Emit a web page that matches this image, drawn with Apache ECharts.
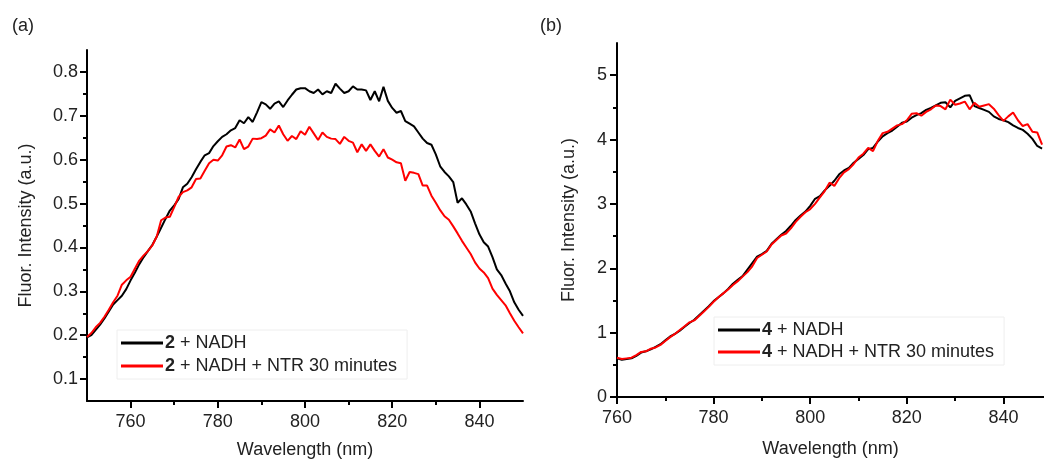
<!DOCTYPE html>
<html>
<head>
<meta charset="utf-8">
<script src="https://cdn.jsdelivr.net/npm/echarts@6/dist/echarts.min.js"></script>
<style>html,body{margin:0;padding:0;background:#fff}#c{width:1044px;height:464px}</style>
</head>
<body>
<div id="c"></div>
<script>
// ---------- data ----------
const wlStartA = 750;   // nm, 1 nm step
const wlStartB = 760;   // nm, 1 nm step
const seriesNamesA = ['2 + NADH', '2 + NADH + NTR 30 minutes'];
const seriesNamesB = ['4 + NADH', '4 + NADH + NTR 30 minutes'];
const blackA = [
  0.195,0.200,0.212,0.224,0.238,0.254,0.270,0.280,0.290,0.305,
  0.325,0.343,0.362,0.378,0.392,0.406,0.425,0.445,0.465,0.484,
  0.496,0.510,0.537,0.545,0.560,0.578,0.595,0.610,0.615,0.631,
  0.642,0.652,0.658,0.667,0.672,0.690,0.683,0.697,0.686,0.708,
  0.731,0.726,0.716,0.728,0.733,0.720,0.735,0.748,0.760,0.763,
  0.763,0.756,0.752,0.760,0.749,0.756,0.752,0.773,0.762,0.752,
  0.756,0.767,0.760,0.760,0.758,0.736,0.756,0.733,0.766,0.734,
  0.718,0.707,0.711,0.688,0.682,0.676,0.662,0.648,0.638,0.634,
  0.612,0.585,0.572,0.562,0.549,0.502,0.512,0.498,0.482,0.455,
  0.430,0.412,0.402,0.378,0.350,0.337,0.318,0.300,0.275,0.258,
  0.244];
const redA = [
  0.196,0.205,0.218,0.228,0.242,0.258,0.275,0.290,0.315,0.325,
  0.333,0.352,0.370,0.382,0.392,0.405,0.425,0.462,0.468,0.470,
  0.492,0.515,0.526,0.530,0.537,0.556,0.557,0.575,0.592,0.600,
  0.598,0.610,0.630,0.633,0.628,0.646,0.624,0.630,0.648,0.647,
  0.649,0.655,0.669,0.662,0.678,0.658,0.643,0.654,0.647,0.665,
  0.657,0.675,0.660,0.645,0.662,0.652,0.648,0.647,0.636,0.652,
  0.643,0.639,0.617,0.635,0.620,0.635,0.620,0.607,0.624,0.605,
  0.600,0.594,0.592,0.552,0.572,0.570,0.567,0.541,0.541,0.518,
  0.502,0.485,0.471,0.463,0.448,0.432,0.415,0.400,0.385,0.366,
  0.352,0.343,0.330,0.306,0.292,0.280,0.268,0.250,0.233,0.218,
  0.204];
const blackB = [
  0.60,0.58,0.59,0.60,0.64,0.69,0.71,0.74,0.78,0.82,
  0.88,0.94,0.98,1.03,1.09,1.15,1.20,1.27,1.34,1.41,
  1.49,1.55,1.61,1.68,1.76,1.82,1.88,1.98,2.08,2.18,
  2.22,2.27,2.38,2.45,2.52,2.58,2.66,2.75,2.82,2.88,
  2.97,3.08,3.12,3.21,3.28,3.36,3.46,3.52,3.56,3.64,
  3.70,3.76,3.85,3.87,3.97,4.05,4.10,4.14,4.20,4.26,
  4.28,4.34,4.38,4.41,4.46,4.49,4.53,4.57,4.58,4.50,
  4.60,4.64,4.68,4.69,4.52,4.49,4.46,4.43,4.36,4.32,
  4.30,4.27,4.22,4.18,4.15,4.09,4.01,3.90,3.86];
const redB = [
  0.61,0.59,0.60,0.61,0.65,0.70,0.71,0.75,0.77,0.81,
  0.87,0.93,0.98,1.04,1.10,1.16,1.19,1.26,1.33,1.40,
  1.48,1.55,1.61,1.67,1.74,1.80,1.87,1.94,2.03,2.16,
  2.21,2.26,2.37,2.44,2.51,2.54,2.62,2.72,2.80,2.87,
  2.92,3.00,3.10,3.20,3.33,3.28,3.40,3.49,3.54,3.62,
  3.72,3.78,3.87,3.82,3.98,4.10,4.12,4.17,4.22,4.24,
  4.30,4.40,4.41,4.37,4.43,4.47,4.53,4.52,4.47,4.62,
  4.54,4.56,4.59,4.47,4.57,4.51,4.53,4.55,4.48,4.38,
  4.29,4.36,4.42,4.30,4.21,4.24,4.12,4.11,3.92];
const xTicksA = [760, 780, 800, 820, 840];
const xMinorA = [770, 790, 810, 830];
const yTicksA = [0.1, 0.2, 0.3, 0.4, 0.5, 0.6, 0.7, 0.8];
const yMinorA = [0.15, 0.25, 0.35, 0.45, 0.55, 0.65, 0.75];
const xTicksB = [760, 780, 800, 820, 840];
const xMinorB = [770, 790, 810, 830];
const yTicksB = [0, 1, 2, 3, 4, 5];
const yMinorB = [0.5, 1.5, 2.5, 3.5, 4.5];

// ---------- helpers ----------
const FONT = "'Liberation Sans', Arial, sans-serif";
const TXT = '#222';
const pairs = (start, arr) => arr.map((v, i) => [start + i, v]);

function majorAxis(gridIndex, min, max, ticks, opts, labelMargin) {
  return Object.assign({
    type: 'value', gridIndex, min, max,
    axisLine: { show: true, onZero: false, lineStyle: { color: '#000', width: 2 } },
    axisTick: { show: true, inside: false, length: 7, lineStyle: { color: '#000', width: 2 }, customValues: ticks },
    axisLabel: { show: true, customValues: ticks, margin: labelMargin, fontFamily: FONT, fontSize: 18, color: TXT },
    splitLine: { show: false },
    nameTextStyle: { fontFamily: FONT, fontSize: 18, color: TXT }
  }, opts);
}
function minorAxis(gridIndex, min, max, ticks, position) {
  return {
    type: 'value', gridIndex, min, max, position,
    axisLine: { show: false, onZero: false },
    axisTick: { show: true, inside: false, length: 4, lineStyle: { color: '#000', width: 2 }, customValues: ticks },
    axisLabel: { show: false },
    splitLine: { show: false }
  };
}
const legendFmt = name => name.replace(/^(\d)/, '{b|$1}');
function legend(data, left, top, gap) {
  return {
    data, orient: 'vertical', left, top, icon: 'rect',
    itemWidth: 42, itemHeight: 3, itemGap: gap,
    padding: [3, 10, 3, 4],
    borderColor: '#eeeeee', borderWidth: 1, backgroundColor: '#fff',
    formatter: legendFmt,
    textStyle: {
      fontFamily: FONT, fontSize: 18, color: TXT, lineHeight: 20, padding: [0, 0, 0, -3],
      rich: { b: { fontFamily: FONT, fontSize: 18, fontWeight: 'bold', color: TXT, lineHeight: 20 } }
    }
  };
}
function line(name, xi, yi, data, color) {
  return {
    name, type: 'line', xAxisIndex: xi, yAxisIndex: yi, data,
    showSymbol: false, symbol: 'none', color,
    lineStyle: { color, width: 2 }, emphasis: { disabled: true }
  };
}

const chart = echarts.init(document.getElementById('c'), null, { renderer: 'canvas' });
chart.setOption({
  animation: false,
  backgroundColor: '#fff',
  graphic: [
    { type: 'text', left: 12, top: 17, style: { text: '(a)', font: "18px 'Liberation Sans', Arial", fill: TXT } },
    { type: 'text', left: 540, top: 17, style: { text: '(b)', font: "18px 'Liberation Sans', Arial", fill: TXT } }
  ],
  grid: [
    { left: 87, top: 50, width: 436, height: 354 },
    { left: 617, top: 43, width: 427, height: 354 }
  ],
  xAxis: [
    majorAxis(0, 750, 850, xTicksA, { position: 'bottom', name: 'Wavelength (nm)', nameLocation: 'middle', nameGap: 40 }, 12),
    minorAxis(0, 750, 850, xMinorA, 'bottom'),
    majorAxis(1, 760, 848.4, xTicksB, { position: 'bottom', name: 'Wavelength (nm)', nameLocation: 'middle', nameGap: 43 }, 12),
    minorAxis(1, 760, 848.4, xMinorB, 'bottom')
  ],
  yAxis: [
    majorAxis(0, 0.05, 0.85, yTicksA, { position: 'left', name: 'Fluor. Intensity (a.u.)', nameLocation: 'middle', nameGap: 52 }, 9),
    minorAxis(0, 0.05, 0.85, yMinorA, 'left'),
    majorAxis(1, 0, 5.5, yTicksB, { position: 'left', name: 'Fluor. Intensity (a.u.)', nameLocation: 'middle', nameGap: 39 }, 10),
    minorAxis(1, 0, 5.5, yMinorB, 'left')
  ],
  legend: [
    legend(seriesNamesA, 117, 330, 3),
    legend(seriesNamesB, 714, 317, 2)
  ],
  series: [
    line(seriesNamesA[0], 0, 0, pairs(wlStartA, blackA), '#000000'),
    line(seriesNamesA[1], 0, 0, pairs(wlStartA, redA), '#ff0000'),
    line(seriesNamesB[0], 2, 2, pairs(wlStartB, blackB), '#000000'),
    line(seriesNamesB[1], 2, 2, pairs(wlStartB, redB), '#ff0000')
  ]
});
</script>
</body>
</html>
